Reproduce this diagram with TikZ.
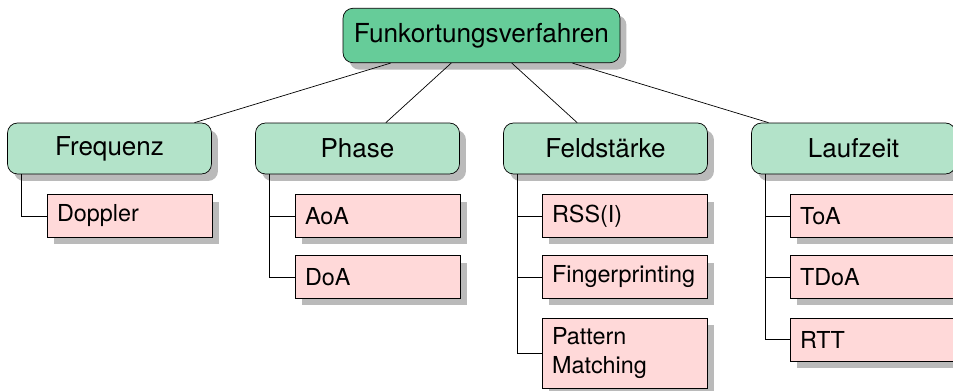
\documentclass[tikz,border=0pt]{standalone}
\usepackage{fontspec}
\setmainfont{TeX Gyre Heros}
\usetikzlibrary{shadows}

\definecolor{rootgreen}{RGB}{102,204,153}
\definecolor{catgreen}{RGB}{179,227,201}
\definecolor{leafpink}{RGB}{255,217,217}

\tikzset{
  boxshadow/.style={drop shadow={shadow xshift=0.13cm, shadow yshift=-0.14cm, fill=black!27, opacity=1}},
  rootbox/.style={draw, fill=rootgreen, rounded corners=0.2cm, boxshadow,
    minimum width=5.54cm, minimum height=1.09cm, font=\fontsize{14.9}{17}\selectfont},
  catbox/.style={draw, fill=catgreen, rounded corners=0.2cm, boxshadow,
    minimum width=4.08cm, minimum height=1.02cm, font=\fontsize{14.8}{17}\selectfont},
  leafbox/.style={draw, fill=leafpink, boxshadow, anchor=west, align=left,
    text width=2.9cm, inner xsep=0.2cm, minimum height=0.86cm,
    font=\fontsize{13.3}{17}\selectfont},
}

\begin{document}
\begin{tikzpicture}[x=0.02cm, y=-0.02cm]
\useasboundingbox (0,0) rectangle (953,391);
% Funkortungsverfahren und ihre Messgroessen
\node[rootbox] (root) at (481.5,35.5) {Funkortungsverfahren};
\node[catbox] (freq) at (109.5,148.5) {Frequenz};
\node[catbox] (phase) at (357.5,148.5) {Phase};
\node[catbox] (feld) at (605.5,148.5) {Feldstärke};
\node[catbox] (lauf) at (853.5,148.5) {Laufzeit};
\draw (root) -- (freq);
\draw (root) -- (phase);
\draw (root) -- (feld);
\draw (root) -- (lauf);

\node[leafbox] (doppler) at (46.7,216) {Doppler};
\node[leafbox] (aoa) at (294.7,216) {AoA};
\node[leafbox] (doa) at (294.7,277) {DoA};
\node[leafbox] (rss) at (541.7,216) {RSS(I)};
\node[leafbox] (finger) at (541.7,277) {Fingerprinting};
\node[leafbox, minimum height=1.4cm] (pattern) at (541.7,353) {Pattern\\Matching};
\node[leafbox] (toa) at (789.7,216) {ToA};
\node[leafbox] (tdoa) at (789.7,277) {TDoA};
\node[leafbox] (rtt) at (789.7,339.5) {RTT};

\draw ([xshift=0.29cm]freq.south west) |- (doppler.west);
\draw ([xshift=0.29cm]phase.south west) |- (aoa.west);
\draw ([xshift=0.29cm]phase.south west) |- (doa.west);
\draw ([xshift=0.29cm]feld.south west) |- (rss.west);
\draw ([xshift=0.29cm]feld.south west) |- (finger.west);
\draw ([xshift=0.29cm]feld.south west) |- (pattern.west);
\draw ([xshift=0.29cm]lauf.south west) |- (toa.west);
\draw ([xshift=0.29cm]lauf.south west) |- (tdoa.west);
\draw ([xshift=0.29cm]lauf.south west) |- (rtt.west);
\end{tikzpicture}
\end{document}
